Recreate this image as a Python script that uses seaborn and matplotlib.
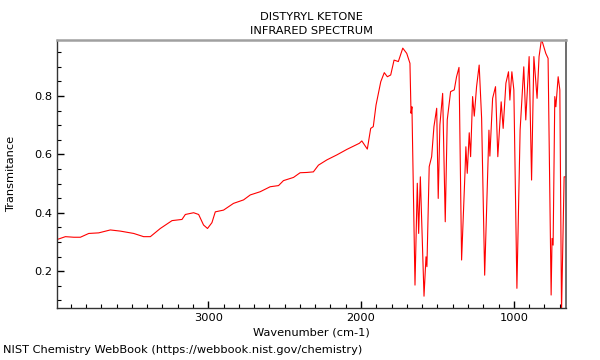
import numpy as np
import pandas as pd
import matplotlib
matplotlib.use("Agg")
import matplotlib.pyplot as plt
from matplotlib.ticker import MultipleLocator
import seaborn as sns

# spectrum (wavenumber in cm-1, transmittance)
wavenumber = [3985, 3935, 3880, 3837, 3782, 3717, 3641, 3575, 3488, 3423,
              3379, 3314, 3237, 3172, 3150, 3096, 3063, 3031, 3005, 2976,
              2954, 2900, 2835, 2769, 2725, 2660, 2595, 2540, 2508, 2442,
              2399, 2355, 2312, 2279, 2224, 2159, 2093, 2011, 1995, 1959,
              1937, 1920, 1902, 1871, 1848, 1828, 1806, 1784, 1756, 1727,
              1701, 1680, 1673, 1667, 1647, 1632, 1623, 1612, 1588, 1575,
              1569, 1554, 1538, 1523, 1505, 1495, 1484, 1466, 1449, 1436,
              1414, 1390, 1375, 1359, 1342, 1320, 1314, 1305, 1292, 1283,
              1270, 1259, 1244, 1227, 1211, 1191, 1163, 1157, 1139, 1120,
              1105, 1083, 1070, 1052, 1035, 1026, 1013, 1000, 980, 959,
              935, 922, 900, 884, 869, 848, 835, 819, 791, 776,
              756, 750, 743, 732, 725, 710, 699, 688, 671, 661]
transmittance = [0.309, 0.318, 0.316, 0.316, 0.329, 0.331, 0.341, 0.337, 0.329, 0.318,
                 0.318, 0.346, 0.373, 0.377, 0.394, 0.400, 0.394, 0.358, 0.346, 0.366,
                 0.403, 0.409, 0.432, 0.444, 0.461, 0.472, 0.489, 0.493, 0.510, 0.521,
                 0.537, 0.538, 0.540, 0.563, 0.581, 0.598, 0.617, 0.638, 0.646, 0.618,
                 0.689, 0.695, 0.769, 0.849, 0.880, 0.866, 0.872, 0.923, 0.918, 0.964,
                 0.946, 0.912, 0.741, 0.763, 0.152, 0.501, 0.329, 0.523, 0.114, 0.249,
                 0.215, 0.558, 0.592, 0.695, 0.758, 0.449, 0.701, 0.809, 0.369, 0.718,
                 0.815, 0.821, 0.866, 0.898, 0.238, 0.535, 0.626, 0.535, 0.674, 0.592,
                 0.798, 0.731, 0.832, 0.906, 0.724, 0.186, 0.683, 0.594, 0.792, 0.832,
                 0.592, 0.780, 0.689, 0.844, 0.883, 0.786, 0.883, 0.821, 0.141, 0.683,
                 0.900, 0.718, 0.935, 0.512, 0.935, 0.792, 0.935, 0.995, 0.946, 0.929,
                 0.118, 0.312, 0.289, 0.798, 0.763, 0.866, 0.821, 0.060, 0.523, 0.523]

df = pd.DataFrame({"wavenumber": wavenumber, "transmittance": transmittance})

sns.set_style("white")
plt.rcParams['font.family'] = ['DejaVu Sans']
plt.rcParams['text.color'] = 'black'
plt.rcParams['axes.labelcolor'] = 'black'
plt.rcParams['xtick.color'] = 'black'
plt.rcParams['ytick.color'] = 'black'

fig = plt.figure(figsize=(6, 3.6), dpi=100)
ax = fig.add_axes([0.095, 0.144, 0.848, 0.745])

sns.lineplot(data=df, x="wavenumber", y="transmittance", color="red",
             linewidth=0.8, ax=ax)

ax.set_xlim(3990, 660)
ax.set_ylim(0.073, 0.992)

ax.xaxis.set_major_locator(MultipleLocator(1000))
ax.xaxis.set_minor_locator(MultipleLocator(100))
ax.yaxis.set_major_locator(MultipleLocator(0.2))
ax.yaxis.set_minor_locator(MultipleLocator(0.05))
ax.tick_params(which="major", direction="in", length=5, width=1, labelsize=8.2,
               bottom=True, left=True, top=False, right=False)
ax.tick_params(which="minor", direction="in", length=3, width=0.8,
               bottom=True, left=True, top=False, right=False)

for side in ["left", "bottom"]:
    ax.spines[side].set_color("#333333")
    ax.spines[side].set_linewidth(1)
ax.spines["top"].set_color("#a0a0a0")
ax.spines["top"].set_linewidth(1.8)
ax.spines["right"].set_color("#555555")
ax.spines["right"].set_linewidth(1.2)

ax.set_xlabel("Wavenumber (cm-1)", fontsize=8.2, labelpad=3)
ax.set_ylabel("Transmitance", fontsize=8.2, labelpad=13)
ax.set_title("DISTYRYL KETONE\nINFRARED SPECTRUM", fontsize=8.2, pad=4,
             linespacing=1.6)

fig.text(0.005, 0.02, "NIST Chemistry WebBook (https://webbook.nist.gov/chemistry)",
         fontsize=8.2, ha="left", va="baseline")

fig.savefig("out.png", dpi=100)
